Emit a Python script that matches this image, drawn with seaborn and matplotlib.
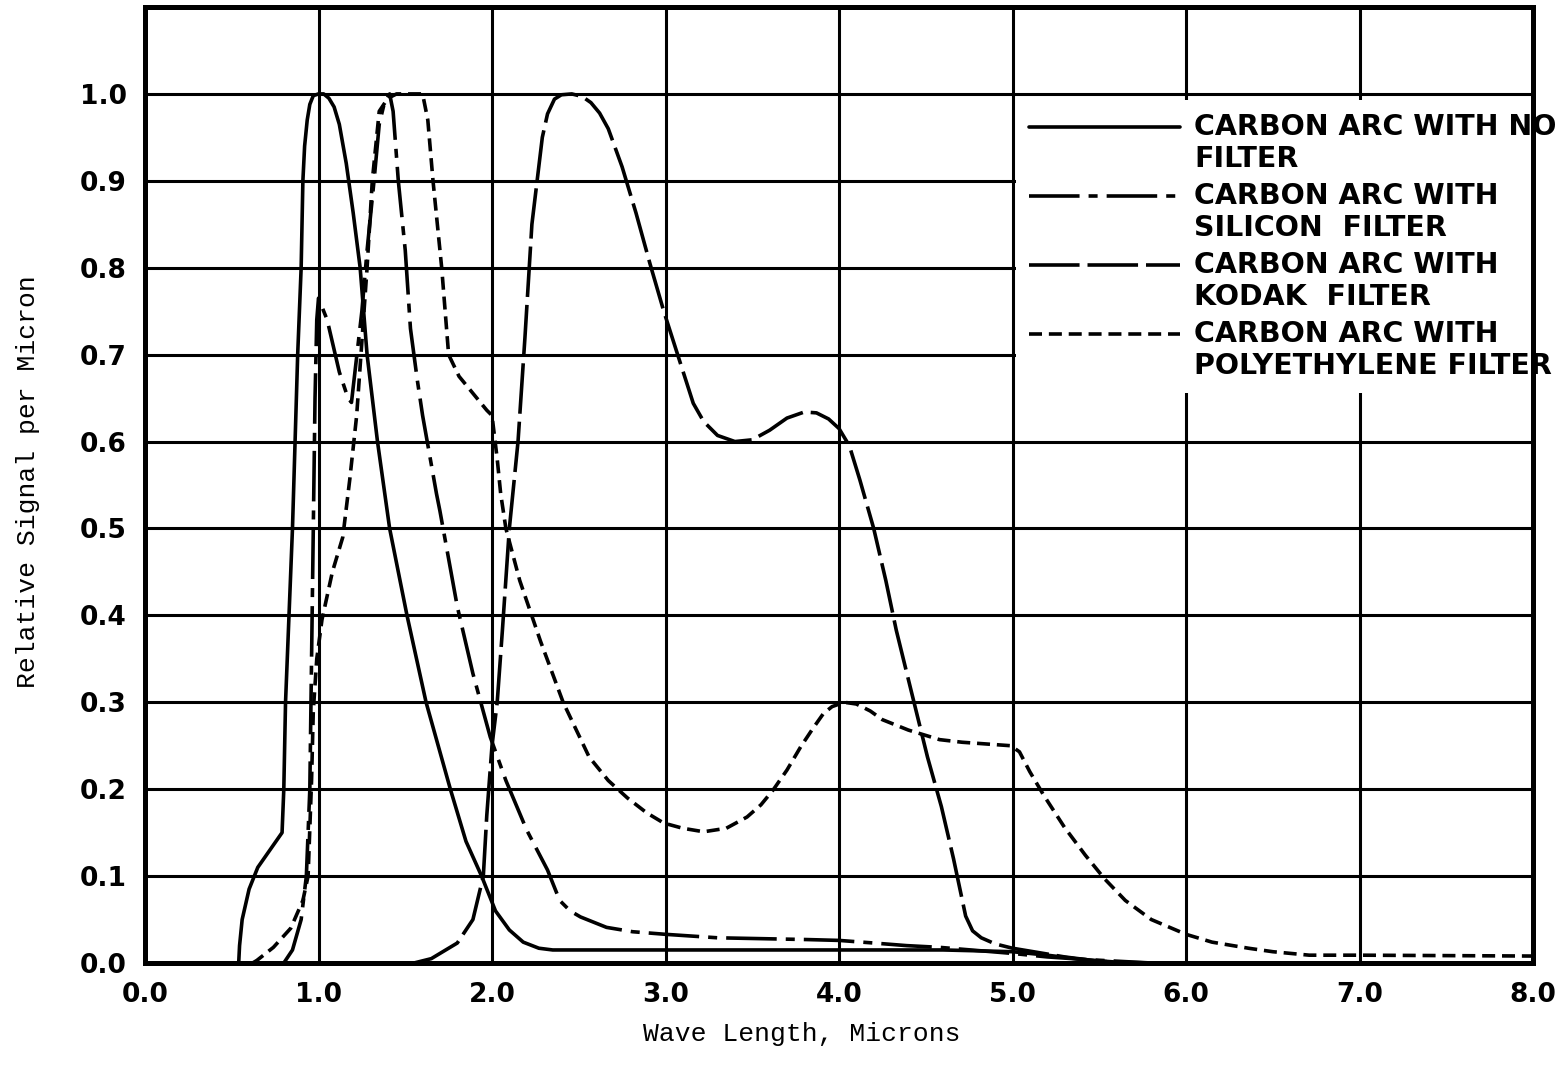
import numpy as np
import pandas as pd
import matplotlib
matplotlib.use("Agg")
import matplotlib.pyplot as plt
import seaborn as sns
from matplotlib.legend_handler import HandlerLine2D

# ---------------- data ----------------
no_filter_x = [0.54, 0.545, 0.56, 0.60, 0.65, 0.72, 0.79, 0.80, 0.81, 0.83, 0.85, 0.865,
               0.88, 0.90, 0.91, 0.92, 0.935, 0.95, 0.97, 1.00, 1.03, 1.06, 1.09, 1.12,
               1.16, 1.20, 1.24, 1.28, 1.34, 1.41, 1.51, 1.62, 1.76, 1.85, 1.94, 2.02,
               2.10, 2.18, 2.27, 2.35, 3.00, 4.00, 4.60, 5.00, 5.20, 5.40, 5.60, 5.80, 6.00]
no_filter_y = [0.0, 0.02, 0.05, 0.085, 0.11, 0.13, 0.15, 0.20, 0.30, 0.40, 0.50, 0.60,
               0.70, 0.80, 0.90, 0.94, 0.97, 0.988, 0.998, 1.0, 1.0, 0.995, 0.985, 0.965,
               0.92, 0.863, 0.80, 0.70, 0.60, 0.50, 0.40, 0.30, 0.20, 0.14, 0.10, 0.06,
               0.038, 0.024, 0.017, 0.015, 0.015, 0.015, 0.015, 0.013, 0.009, 0.004, 0.001, 0.0, 0.0]

silicon_x = [0.80, 0.85, 0.90, 0.93, 0.95, 0.96, 0.97, 0.98, 0.99, 1.00, 1.05, 1.12,
             1.17, 1.19, 1.21, 1.25, 1.28, 1.32, 1.35, 1.38, 1.41, 1.43, 1.46, 1.50,
             1.53, 1.57, 1.60, 1.68, 1.70, 1.80, 1.89, 1.99, 2.08, 2.20, 2.32, 2.39,
             2.45, 2.51, 2.66, 2.81, 3.00, 3.30, 3.81, 4.00, 4.20, 4.39, 4.58, 5.00,
             5.20, 5.42, 5.80]
silicon_y = [0.0, 0.015, 0.05, 0.10, 0.20, 0.35, 0.50, 0.65, 0.74, 0.765, 0.74, 0.68,
             0.65, 0.645, 0.68, 0.75, 0.82, 0.90, 0.965, 0.99, 1.0, 0.98, 0.90, 0.82,
             0.73, 0.67, 0.63, 0.54, 0.52, 0.41, 0.333, 0.26, 0.21, 0.153, 0.107, 0.072,
             0.06, 0.053, 0.041, 0.036, 0.033, 0.029, 0.027, 0.026, 0.023, 0.02, 0.018, 0.011,
             0.007, 0.004, 0.0]

kodak_x = [1.55, 1.65, 1.80, 1.89, 1.95, 1.97, 2.00, 2.03, 2.06, 2.10, 2.15, 2.19,
           2.23, 2.26, 2.29, 2.32, 2.36, 2.40, 2.46, 2.52, 2.57, 2.62, 2.67, 2.75,
           2.83, 2.91, 2.99, 3.07, 3.16, 3.22, 3.30, 3.40, 3.50, 3.60, 3.70, 3.80,
           3.87, 3.94, 4.00, 4.06, 4.12, 4.20, 4.27, 4.33, 4.41, 4.51, 4.59, 4.66,
           4.73, 4.77, 4.82, 4.90, 5.00, 5.30, 5.50, 5.70]
kodak_y = [0.0, 0.005, 0.023, 0.05, 0.10, 0.17, 0.25, 0.30, 0.383, 0.50, 0.60, 0.72,
           0.85, 0.90, 0.95, 0.977, 0.994, 0.999, 1.0, 0.997, 0.99, 0.978, 0.96, 0.916,
           0.863, 0.805, 0.75, 0.70, 0.644, 0.623, 0.607, 0.600, 0.602, 0.613, 0.627, 0.634,
           0.633, 0.626, 0.615, 0.595, 0.556, 0.50, 0.44, 0.383, 0.318, 0.237, 0.18, 0.12,
           0.054, 0.037, 0.029, 0.022, 0.017, 0.007, 0.002, 0.0]

poly_x = [0.62, 0.645, 0.74, 0.84, 0.91, 0.94, 0.96, 0.97, 0.99, 1.02, 1.08, 1.14,
          1.18, 1.22, 1.28, 1.31, 1.35, 1.40, 1.45, 1.60, 1.63, 1.66, 1.71, 1.75,
          1.81, 1.97, 2.00, 2.03, 2.05, 2.08, 2.16, 2.28, 2.41, 2.56, 2.67, 2.78,
          2.89, 2.99, 3.10, 3.22, 3.35, 3.47, 3.55, 3.62, 3.70, 3.78, 3.85, 3.91,
          3.96, 4.03, 4.10, 4.18, 4.25, 4.40, 4.58, 4.71, 4.85, 4.99, 5.04, 5.10,
          5.18, 5.30, 5.42, 5.53, 5.65, 5.80, 6.00, 6.15, 6.36, 6.50, 6.71, 7.00, 8.00]
poly_y = [0.0, 0.003, 0.018, 0.04, 0.072, 0.10, 0.21, 0.29, 0.35, 0.395, 0.45, 0.49,
          0.556, 0.63, 0.80, 0.90, 0.98, 0.995, 1.0, 1.0, 0.97, 0.90, 0.80, 0.70,
          0.675, 0.636, 0.63, 0.58, 0.54, 0.50, 0.44, 0.37, 0.30, 0.237, 0.21, 0.19,
          0.173, 0.161, 0.155, 0.151, 0.155, 0.168, 0.182, 0.199, 0.222, 0.249, 0.27, 0.287,
          0.295, 0.30, 0.298, 0.29, 0.28, 0.268, 0.257, 0.254, 0.252, 0.25, 0.243, 0.22,
          0.193, 0.156, 0.124, 0.097, 0.072, 0.05, 0.033, 0.024, 0.017, 0.013, 0.009, 0.009, 0.008]

series_names = ["no", "silicon", "kodak", "poly"]
legend_labels = ["CARBON ARC WITH NO\nFILTER",
                 "CARBON ARC WITH\nSILICON  FILTER",
                 "CARBON ARC WITH\nKODAK  FILTER",
                 "CARBON ARC WITH\nPOLYETHYLENE FILTER"]
x_ticks = [0, 1, 2, 3, 4, 5, 6, 7, 8]
x_tick_labels = ["0.0", "1.0", "2.0", "3.0", "4.0", "5.0", "6.0", "7.0", "8.0"]
y_ticks = [0.0, 0.1, 0.2, 0.3, 0.4, 0.5, 0.6, 0.7, 0.8, 0.9, 1.0]
y_tick_labels = ["0.0", "0.1", "0.2", "0.3", "0.4", "0.5", "0.6", "0.7", "0.8", "0.9", "1.0"]

frames = []
for name, xs, ys in [("no", no_filter_x, no_filter_y),
                     ("silicon", silicon_x, silicon_y),
                     ("kodak", kodak_x, kodak_y),
                     ("poly", poly_x, poly_y)]:
    frames.append(pd.DataFrame({"x": xs, "y": ys, "series": name}))
df = pd.concat(frames, ignore_index=True)

# ---------------- style ----------------
sns.set_theme(style="white")
plt.rcParams["font.family"] = ["DejaVu Sans"]
plt.rcParams["text.color"] = "black"
plt.rcParams["axes.labelcolor"] = "black"
plt.rcParams["xtick.color"] = "black"
plt.rcParams["ytick.color"] = "black"
plt.rcParams["lines.solid_joinstyle"] = "round"
plt.rcParams["lines.dash_joinstyle"] = "round"


class TopLineHandler(HandlerLine2D):
    """Legend handler that puts the sample line level with the first text line."""

    def __init__(self, dy=0.6, **kw):
        super().__init__(**kw)
        self.dy = dy

    def create_artists(self, legend, orig_handle, xdescent, ydescent, width,
                       height, fontsize, trans):
        arts = super().create_artists(legend, orig_handle, xdescent, ydescent,
                                      width, height, fontsize, trans)
        for a in arts:
            a.set_ydata(np.asarray(a.get_ydata(), dtype=float) + self.dy * fontsize)
        return arts


fig = plt.figure(figsize=(15.64, 10.81), dpi=100)
ax = fig.add_axes([145 / 1564, 1 - 963 / 1081, (1533 - 145) / 1564, (963 - 7) / 1081])

dash_map = {"no": "", "silicon": (14, 2.5, 2.5, 2.5), "kodak": (14, 2.2), "poly": (3.6, 1.9)}
sns.lineplot(data=df, x="x", y="y", style="series", style_order=series_names,
             dashes=dash_map, color="black", linewidth=2.6, estimator=None,
             sort=False, legend=False, ax=ax, zorder=3)

ax.set_xlim(0, 8)
ax.set_ylim(0, 1.1)
ax.set_xticks(x_ticks)
ax.set_xticklabels(x_tick_labels)
ax.set_yticks(y_ticks)
ax.set_yticklabels(y_tick_labels)
ax.tick_params(axis="both", length=0, labelsize=19, colors="black")
ax.tick_params(axis="x", pad=14)
ax.tick_params(axis="y", pad=13)
for lab in ax.get_xticklabels() + ax.get_yticklabels():
    lab.set_fontweight("bold")
    lab.set_color("black")

ax.grid(True, color="black", linewidth=2.2)
ax.set_axisbelow(True)
for sp in ax.spines.values():
    sp.set_visible(True)
    sp.set_color("black")
    sp.set_linewidth(3.6)
    sp.set_zorder(6)

ax.set_xlabel("Wave Length, Microns", family="Liberation Mono", fontsize=19, color="black")
ax.set_ylabel("Relative Signal per Micron", family="Liberation Mono", fontsize=19, color="black")
ax.xaxis.set_label_coords((802 - 145) / 1388, (963 - 1022) / 956)
ax.yaxis.set_label_coords((40 - 145) / 1388, (963 - 482) / 956)

handles = list(ax.get_lines())[:4]
leg = ax.legend(handles, legend_labels, loc="upper left",
                bbox_to_anchor=((1016 - 145) / 1388, (963 - 100) / 956),
                frameon=True, fancybox=False, framealpha=1.0, facecolor="white",
                edgecolor="none", handlelength=5.3, handletextpad=0.5,
                labelspacing=0.3, borderpad=0.45, borderaxespad=0,
                prop={"family": "DejaVu Sans", "weight": "bold", "size": 20.5},
                handler_map={matplotlib.lines.Line2D: TopLineHandler(dy=0.6)})
for t in leg.get_texts():
    t.set_color("black")
leg.set_zorder(5)

fig.savefig("out.png", dpi=100, facecolor="white")
